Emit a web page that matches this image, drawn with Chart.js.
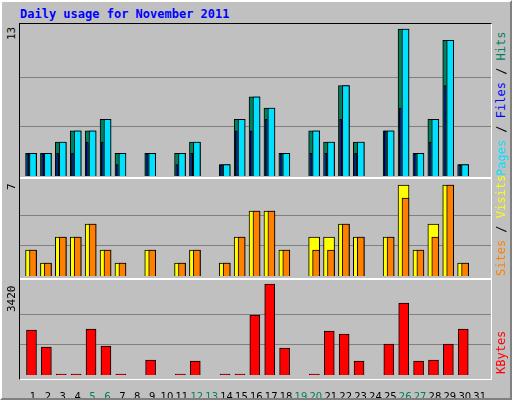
<!DOCTYPE html>
<html><head><meta charset="utf-8">
<script src="https://cdn.jsdelivr.net/npm/chart.js@4/dist/chart.umd.min.js"></script>
<style>
body{margin:0;background:#fff;}
#frame{position:absolute;left:0;top:0;width:508px;height:396px;background:#c0c0c0;border:2px solid;border-color:#fff #808080 #808080 #fff;}
.pane{position:absolute;left:20px;width:471px;}
canvas{display:block;}
.t{position:absolute;font-family:"DejaVu Sans Mono",monospace;font-size:12px;white-space:nowrap;}
.rot{transform:rotate(-90deg);transform-origin:left top;}
#box{position:absolute;left:19px;top:23px;width:471px;height:355px;border:1px solid #000;border-right-color:#fff;border-bottom-color:#fff;}
.sep{position:absolute;left:20px;width:471px;height:2px;background:#fff;}
</style></head><body>
<div id="frame"></div>
<div id="box"></div>
<div class="pane" style="top:24px;height:154px"><canvas id="c1" width="471" height="154"></canvas></div>
<div class="sep" style="top:177px"></div>
<div class="pane" style="top:179px;height:99px"><canvas id="c2" width="471" height="99"></canvas></div>
<div class="sep" style="top:278px"></div>
<div class="pane" style="top:280px;height:118px"><canvas id="c3" width="471" height="118"></canvas></div>
<div class="t" style="left:20px;top:7px;font-weight:bold;color:#0000ff">Daily usage for November 2011</div>
<div class="t rot" style="left:5px;top:40px;color:#000;font-size:11px">13</div>
<div class="t rot" style="left:5px;top:190px;color:#000;font-size:11px">7</div>
<div class="t rot" style="left:5px;top:312px;color:#000;font-size:11px">3420</div>
<div class="t rot" style="left:494px;top:176px"><span style="color:#00e0ff">Pages</span><span style="color:#000"> / </span><span style="color:#0000ff">Files</span><span style="color:#000"> / </span><span style="color:#00805c">Hits</span></div>
<div class="t rot" style="left:494px;top:276px"><span style="color:#ff8000">Sites</span><span style="color:#000"> / </span><span style="color:#ffff00">Visits</span></div>
<div class="t rot" style="left:494px;top:374px;color:#ff0000">KBytes</div>
<script>
const days = Array.from({length: 31}, (_, i) => i + 1);
const weekends = [5, 6, 12, 13, 19, 20, 26, 27];
const hits   = [2,2,3,4,4,5,2,0,2,0,2,3,0,1,5,7,6,2,0,4,3,8,3,0,4,13,2,5,12,1,0];
const files  = [2,2,2,2,3,3,1,0,2,0,1,2,0,1,4,4,5,2,0,2,2,5,2,0,4,6,2,3,8,1,0];
const pages  = [2,2,3,4,4,5,2,0,2,0,2,3,0,1,5,7,6,2,0,4,3,8,3,0,4,13,2,5,12,1,0];
const visits = [2,1,3,3,4,2,1,0,2,0,1,2,0,1,3,5,5,2,0,3,3,4,3,0,3,7,2,4,7,1,0];
const sites  = [2,1,3,3,4,2,1,0,2,0,1,2,0,1,3,5,5,2,0,2,2,4,3,0,3,6,2,3,7,1,0];
const kbytes = [1691,1052,30,30,1729,1090,30,0,564,0,30,526,0,30,30,2255,3420,1015,0,30,1654,1541,526,0,1165,2706,526,564,1165,1729,0];

function ds(values, off, w, color, order) {
  return {
    data: values.map((v, i) => ({x: days[i] + off, y: v})),
    backgroundColor: color, borderColor: "#000", borderWidth: 1,
    barThickness: w, order, grouped: false, borderSkipped: "bottom"
  };
}

function makeChart(id, datasets, yMin, yMax, yTop, showX) {
  return new Chart(document.getElementById(id), {
    type: "bar",
    data: { datasets },
    options: {
      responsive: false, animation: false,
      layout: { padding: 0 },
      plugins: { legend: { display: false }, tooltip: { enabled: false } },
      scales: {
        x: {
          type: "linear", min: 0.128, max: 31.74, offset: false,
          grid: { display: false }, border: { display: false },
          afterBuildTicks: (s) => { s.ticks = days.map((d) => ({ value: d })); },
          afterFit: (s) => { s.height = showX ? 20 : 0; },
          ticks: {
            display: showX, autoSkip: false, maxRotation: 0, padding: 5,
            font: { family: "DejaVu Sans", size: 10 },
            color: (c) => weekends.includes(c.tick.value) ? "#00805c" : "#000"
          }
        },
        y: {
          min: yMin, max: yMax, display: true,
          afterBuildTicks: (s) => { s.ticks = [{ value: yTop / 3 }, { value: yTop * 2 / 3 }]; },
          afterFit: (s) => { s.width = 0; },
          ticks: { display: false },
          border: { display: false },
          grid: { color: "#808080", lineWidth: 1, drawTicks: false }
        }
      }
    }
  });
}

makeChart("c1", [
  ds(hits, -0.13, 11, "#00805c", 3),
  ds(files, -0.35, 2, "#0000ff", 1),
  ds(pages, 0.0, 7, "#00e0ff", 2)
], -0.18, 13.44, 13, false);

makeChart("c2", [
  ds(visits, -0.13, 11, "#ffff00", 2),
  ds(sites, 0.0, 7, "#ff8000", 1)
], -0.15, 7.46, 7, false);

makeChart("c3", [
  ds(kbytes, -0.1, 10, "#ff0000", 1)
], -113, 3570, 3420, true);
</script>
</body></html>
